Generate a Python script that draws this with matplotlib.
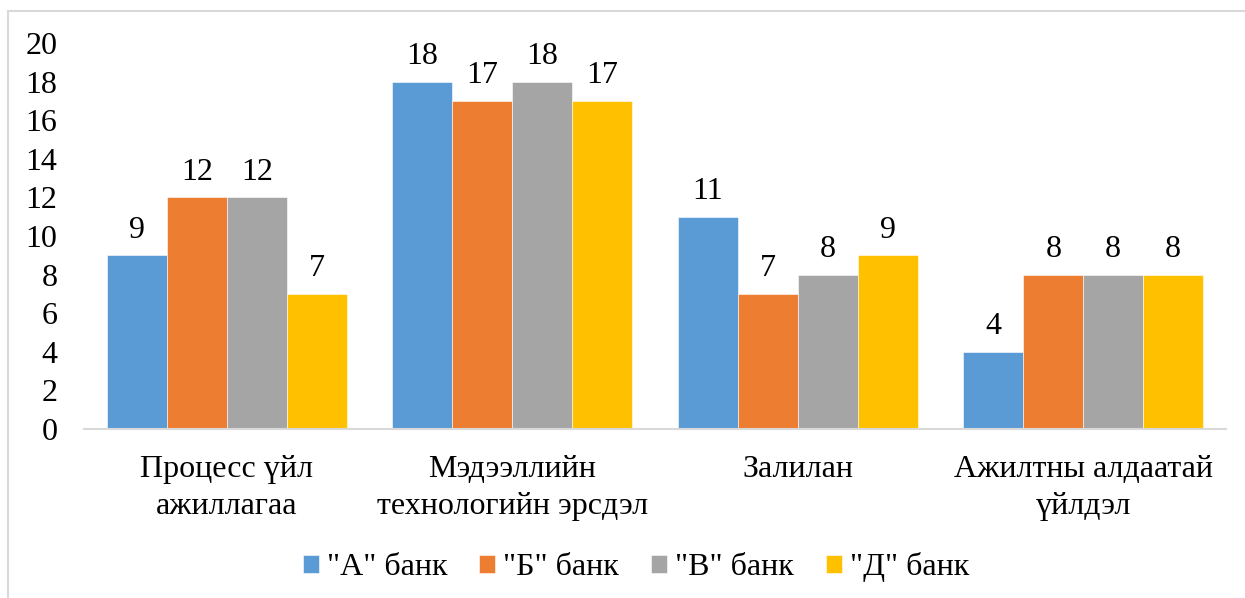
import numpy as np
import matplotlib.pyplot as plt
from matplotlib.patches import Rectangle

plt.rcParams['font.family'] = 'serif'
plt.rcParams['font.serif'] = ['Liberation Serif', 'Times New Roman', 'DejaVu Serif']

categories = ["Процесс үйл\nажиллагаа", "Мэдээллийн\nтехнологийн эрсдэл",
              "Залилан", "Ажилтны алдаатай\nүйлдэл"]
banks = ['"А" банк', '"Б" банк', '"В" банк', '"Д" банк']
bank_a = [9, 18, 11, 4]
bank_b = [12, 17, 7, 8]
bank_v = [12, 18, 8, 8]
bank_d = [7, 17, 9, 8]
colors = ["#5B9BD5", "#ED7D31", "#A5A5A5", "#FFC000"]

fs = 23
fig = plt.figure(figsize=(12.45, 5.98), dpi=100)
ax = fig.add_axes([84 / 1245, 169 / 598, 1142 / 1245, 386 / 598])

x = np.arange(len(categories))
w = 0.21
series = [bank_a, bank_b, bank_v, bank_d]
for i, (vals, name, c) in enumerate(zip(series, banks, colors)):
    bars = ax.bar(x + (i - 1.5) * w, vals, w, color=c, label=name,
                  edgecolor="white", linewidth=0.4)
    for b, v in zip(bars, vals):
        ax.annotate(str(v), (b.get_x() + b.get_width() / 2, v),
                    xytext=(0, 18), textcoords="offset points",
                    ha="center", va="center", fontsize=fs)

ax.set_xlim(-0.5, 3.5)
ax.set_ylim(0, 20)
ax.set_yticks(range(0, 21, 2))
ax.set_xticks(x)
ax.set_xticklabels(categories, fontsize=fs, linespacing=1.35)
ax.tick_params(axis="y", length=0, pad=19, labelsize=fs)
ax.tick_params(axis="x", length=0, pad=19)
for s in ["top", "right", "left"]:
    ax.spines[s].set_visible(False)
ax.spines["bottom"].set_color("#D9D9D9")
ax.spines["bottom"].set_linewidth(1.5)

leg = fig.legend(loc="center", bbox_to_anchor=(636 / 1245, 31 / 598), ncol=4,
                 frameon=False, fontsize=fs, handlelength=0.5, handleheight=0.5,
                 handletextpad=0.25, columnspacing=1.0)

# chart border
fig.patches.append(Rectangle((8 / 1245, -0.02), 1.1, 0.02 + 587 / 598,
                             transform=fig.transFigure, fill=False,
                             edgecolor="#D9D9D9", linewidth=1.5))

fig.savefig("out.png", dpi=100)
